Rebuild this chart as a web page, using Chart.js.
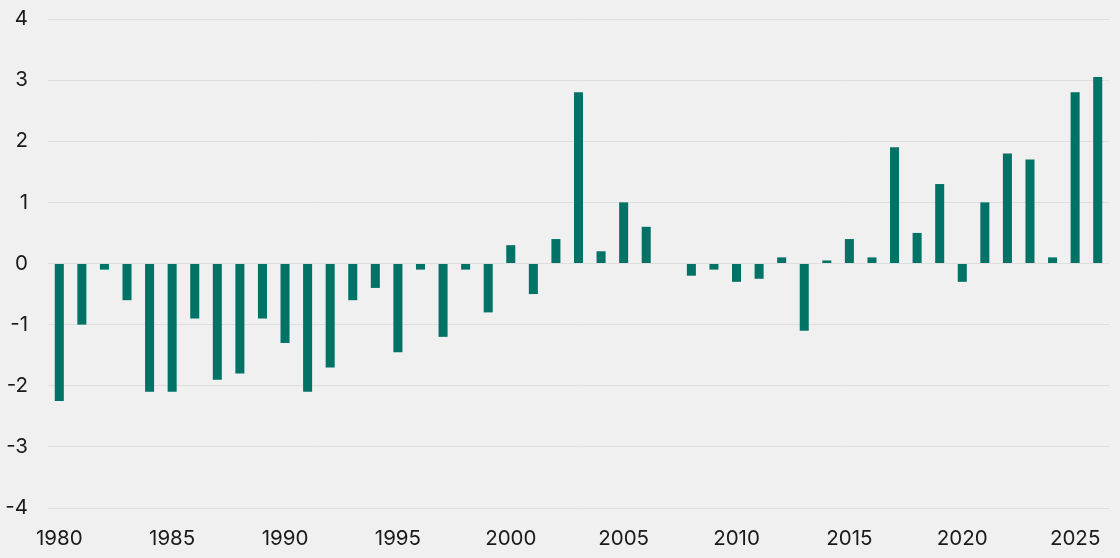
<!DOCTYPE html>
<html>
<head>
<meta charset="utf-8">
<script src="https://cdn.jsdelivr.net/npm/chart.js@4"></script>
<style>
  html, body { margin: 0; padding: 0; background: #f0f0f0; }
  #wrap { width: 1120px; height: 558px; position: relative; }
</style>
</head>
<body>
<div id="wrap"><canvas id="chart"></canvas></div>
<script>
// years 1980 - 2026
const years = [];
for (let y = 1980; y <= 2026; y++) years.push(String(y));

const values = [
  -2.25, -1.0, -0.1, -0.6, -2.1, -2.1, -0.9, -1.9, -1.8, -0.9,   // 1980-1989
  -1.3, -2.1, -1.7, -0.6, -0.4, -1.45, -0.1, -1.2, -0.1, -0.8,   // 1990-1999
  0.3, -0.5, 0.4, 2.8, 0.2, 1.0, 0.6, null, -0.2, -0.1,          // 2000-2009
  -0.3, -0.25, 0.1, -1.1, 0.05, 0.4, 0.1, 1.9, 0.5, 1.3,         // 2010-2019
  -0.3, 1.0, 1.8, 1.7, 0.1, 2.8, 3.05                            // 2020-2026
];

const yTicks = [-4, -3, -2, -1, 0, 1, 2, 3, 4];
const labelFont = { family: 'Inter, "Noto Sans", sans-serif', size: 20.5 };

const ctx = document.getElementById('chart').getContext('2d');
const chart = new Chart(ctx, {
    type: 'bar',
    data: {
        labels: years,
        datasets: [{
            data: values,
            backgroundColor: '#007366',
            barPercentage: 0.8,
            categoryPercentage: 0.5
        }]
    },
    options: {
        responsive: true,
        maintainAspectRatio: false,
        animation: false,
        layout: { padding: { top: 19, right: 11, left: 0, bottom: 0 } },
        plugins: {
            legend: { display: false },
            tooltip: { enabled: false }
        },
        scales: {
            x: {
                grid: { display: false, drawTicks: false },
                border: { display: false },
                ticks: {
                    autoSkip: false,
                    maxRotation: 0,
                    padding: 19,
                    color: '#1a1a1a',
                    font: labelFont,
                    callback: function (val, i) {
                        const lbl = this.getLabelForValue(val);
                        return Number(lbl) % 5 === 0 ? lbl : '';
                    }
                },
                afterFit: (scale) => {
                    scale.height = 50;
                    scale.paddingLeft = 0;
                    scale.paddingRight = 0;
                }
            },
            y: {
                min: -4,
                max: 4,
                afterBuildTicks: (scale) => { scale.ticks = yTicks.map(v => ({ value: v })); },
                grid: { color: '#dedede', lineWidth: 1, drawTicks: false },
                border: { display: false },
                ticks: {
                    padding: 20,
                    color: '#1a1a1a',
                    font: labelFont
                },
                afterFit: (scale) => {
                    scale.width = 48;
                    scale.paddingTop = 0;
                    scale.paddingBottom = 0;
                }
            }
        }
    }
});
</script>
</body>
</html>
